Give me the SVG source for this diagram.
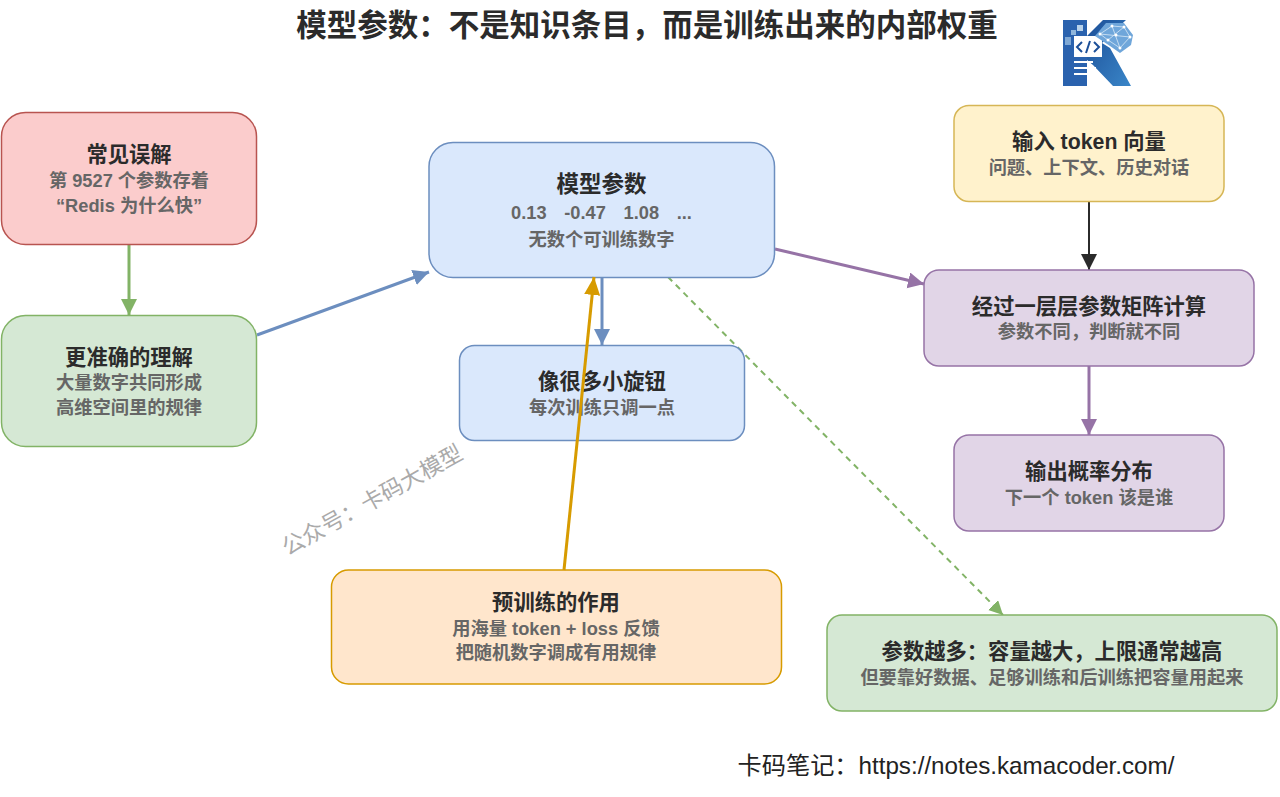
<svg xmlns="http://www.w3.org/2000/svg" width="1280" height="797" viewBox="0 0 1280 797">
<style>
text{font-family:"Liberation Sans","Noto Sans CJK SC",sans-serif;text-anchor:middle}
.t{font-size:21.300px;font-weight:700;fill:#2b2b2b}
.s{font-size:18.250px;font-weight:700;fill:#666}
.c{fill:none;stroke-width:3}
.r{stroke-width:1.500}
.blue{fill:#dae8fc;stroke:#6c8ebf}.red{fill:#fbcccc;stroke:#b85450}.green{fill:#d5e8d4;stroke:#82b366}.yellow{fill:#fff2cc;stroke:#d6b656}.purple{fill:#e1d5e7;stroke:#9673a6}.orange{fill:#ffe6cc;stroke:#d79b00}
.nd{fill:#fff}
</style>
<defs>
<marker id="ag" markerUnits="userSpaceOnUse" markerWidth="18" markerHeight="18" refX="16" refY="8" orient="auto"><path d="M0 0L16 8L0 16Z" fill="#82b366"/></marker>
<marker id="ab" markerUnits="userSpaceOnUse" markerWidth="18" markerHeight="18" refX="16" refY="8" orient="auto"><path d="M0 0L16 8L0 16Z" fill="#6c8ebf"/></marker>
<marker id="ap" markerUnits="userSpaceOnUse" markerWidth="18" markerHeight="18" refX="16" refY="8" orient="auto"><path d="M0 0L16 8L0 16Z" fill="#9673a6"/></marker>
<marker id="ak" markerUnits="userSpaceOnUse" markerWidth="18" markerHeight="18" refX="16" refY="8" orient="auto"><path d="M0 0L16 8L0 16Z" fill="#2b2b2b"/></marker>
<marker id="ao" markerUnits="userSpaceOnUse" markerWidth="20" markerHeight="18" refX="18" refY="8" orient="auto"><path d="M0 0L18 8L0 16Z" fill="#d79b00"/></marker>
<marker id="ad" markerUnits="userSpaceOnUse" markerWidth="16" markerHeight="16" refX="14" refY="7" orient="auto"><path d="M0 0L14 7L0 14Z" fill="#82b366"/></marker>
<linearGradient id="lg" x1="0" y1="0" x2="1" y2="1"><stop offset="0" stop-color="#1c4f98"/><stop offset="1" stop-color="#3a86c8"/></linearGradient>
</defs>
<rect width="1280" height="797" fill="#fff"/>
<text x="647" y="36" style="font-size:30.500px;font-weight:700;fill:#2b2b2b">模型参数&#xFF1A;不是知识条目&#xFF0C;而是训练出来的内部权重</text>
<g id="logo">
<path d="M1063 20H1087V86H1063Z" fill="#2a62ae"/>
<path d="M1087 36L1103 20H1126L1102 43L1110 48L1131 86H1113L1093 65L1087 60Z" fill="url(#lg)"/>
<rect x="1071" y="30" width="5" height="5" fill="#8fb6dc"/><rect x="1077" y="25" width="6" height="6" fill="#b8d2ea"/>
<rect x="1065" y="37" width="6" height="8" fill="#7fa8d4"/>
<path d="M1074 36H1102V57H1074Z" fill="#fff"/>
<path d="M1074 62H1093M1074 68H1096M1074 74H1088" stroke="#fff" stroke-width="2"/>
<path d="M1082 42L1077 47L1082 52M1094 42L1099 47L1094 52M1090 41L1086 53" stroke="#1c4f98" stroke-width="2" fill="none"/>
<path d="M1095 36L1106 23H1124L1133 35L1131 45L1120 53L1110 46Z" fill="#6fa6da"/>
<path d="M1100 34L1112 26L1124 27L1130 37L1120 48L1108 40ZM1112 26L1120 48M1100 34L1130 37M1124 27L1108 40" stroke="#d8e8f6" stroke-width=".8" fill="none"/>
<circle class="nd" cx="1100" cy="34" r="1.500"/><circle class="nd" cx="1112" cy="26" r="1.500"/><circle class="nd" cx="1124" cy="27" r="1.500"/><circle class="nd" cx="1130" cy="37" r="1.500"/><circle class="nd" cx="1120" cy="48" r="1.500"/><circle class="nd" cx="1108" cy="40" r="1.500"/><circle class="nd" cx="1116" cy="35" r="1.500"/>
</g>
<g id="connectors">
<path class="c" stroke="#82b366" d="M129 244V315" marker-end="url(#ag)"/>
<path class="c" stroke="#6c8ebf" d="M257 335L429 272" marker-end="url(#ab)"/>
<path class="c" stroke="#9673a6" d="M775 249L924 284" marker-end="url(#ap)"/>
<path class="c" stroke="#2b2b2b" style="stroke-width:2" d="M1089 201V270" marker-end="url(#ak)"/>
<path class="c" stroke="#9673a6" d="M1089 366V435" marker-end="url(#ap)"/>
<path class="c" stroke="#6c8ebf" d="M602 277V345" marker-end="url(#ab)"/>
<path class="c" stroke="#82b366" style="stroke-width:2" stroke-dasharray="6 5" d="M668 277L1003 615" marker-end="url(#ad)"/>
</g>
<g id="n1"><rect class="r red" x="1.500" y="112.500" width="255" height="132" rx="24"/><text class="t" x="129" y="161.700">常见误解</text><text class="s" x="129" y="186.700">第 9527 个参数存着</text><text class="s" x="129" y="211.500">“Redis 为什么快”</text></g>
<g id="n2"><rect class="r green" x="1.500" y="315.500" width="255" height="131" rx="24"/><text class="t" x="129" y="364.700">更准确的理解</text><text class="s" x="129" y="389">大量数字共同形成</text><text class="s" x="129" y="414">高维空间里的规律</text></g>
<g id="n3"><rect class="r blue" x="429" y="142.500" width="345.500" height="135" rx="24"/><text class="t" x="601.500" y="191.700" style="font-size:22.500px">模型参数</text><text class="s" x="601.500" y="218.600" style="word-spacing:-.65px">0.13&#160;&#160;&#160;&#160;-0.47&#160;&#160;&#160;&#160;1.08&#160;&#160;&#160;&#160;...</text><text class="s" x="601.500" y="246">无数个可训练数字</text></g>
<g id="n4"><rect class="r blue" x="459.500" y="345.500" width="285" height="95" rx="15"/><text class="t" x="602" y="388.700">像很多小旋钮</text><text class="s" x="602" y="413.500">每次训练只调一点</text></g>
<g id="n5"><rect class="r yellow" x="954" y="105.500" width="270" height="96" rx="15"/><text class="t" x="1089" y="148.700">输入 token 向量</text><text class="s" x="1089" y="173.700">问题、上下文、历史对话</text></g>
<g id="n6"><rect class="r purple" x="924" y="270" width="330" height="96" rx="15"/><text class="t" x="1089" y="313.700">经过一层层参数矩阵计算</text><text class="s" x="1089" y="338">参数不同&#xFF0C;判断就不同</text></g>
<g id="n7"><rect class="r purple" x="954" y="435" width="270" height="96" rx="15"/><text class="t" x="1089" y="478.700">输出概率分布</text><text class="s" x="1089" y="503.700">下一个 token 该是谁</text></g>
<g id="n8"><rect class="r orange" x="331.500" y="570" width="450" height="114" rx="17"/><text class="t" x="556" y="609.700">预训练的作用</text><text class="s" x="556" y="634.700">用海量 token + loss 反馈</text><text class="s" x="556" y="659">把随机数字调成有用规律</text></g>
<g id="n9"><rect class="r green" x="827" y="615" width="450" height="96" rx="15"/><text class="t" x="1052" y="658.700">参数越多&#xFF1A;容量越大&#xFF0C;上限通常越高</text><text class="s" x="1052" y="683.700">但要靠好数据、足够训练和后训练把容量用起来</text></g>
<g id="over"><path class="c" stroke="#d79b00" d="M564 570L594 277" marker-end="url(#ao)"/></g>
<text x="376" y="507" transform="rotate(-29 376 507)" style="font-size:22.500px;fill:#aaa">公众号&#xFF1A;卡码大模型</text>
<text x="956" y="774" style="font-size:24.200px;fill:#222">卡码笔记&#xFF1A;https://notes.kamacoder.com/</text>
</svg>
